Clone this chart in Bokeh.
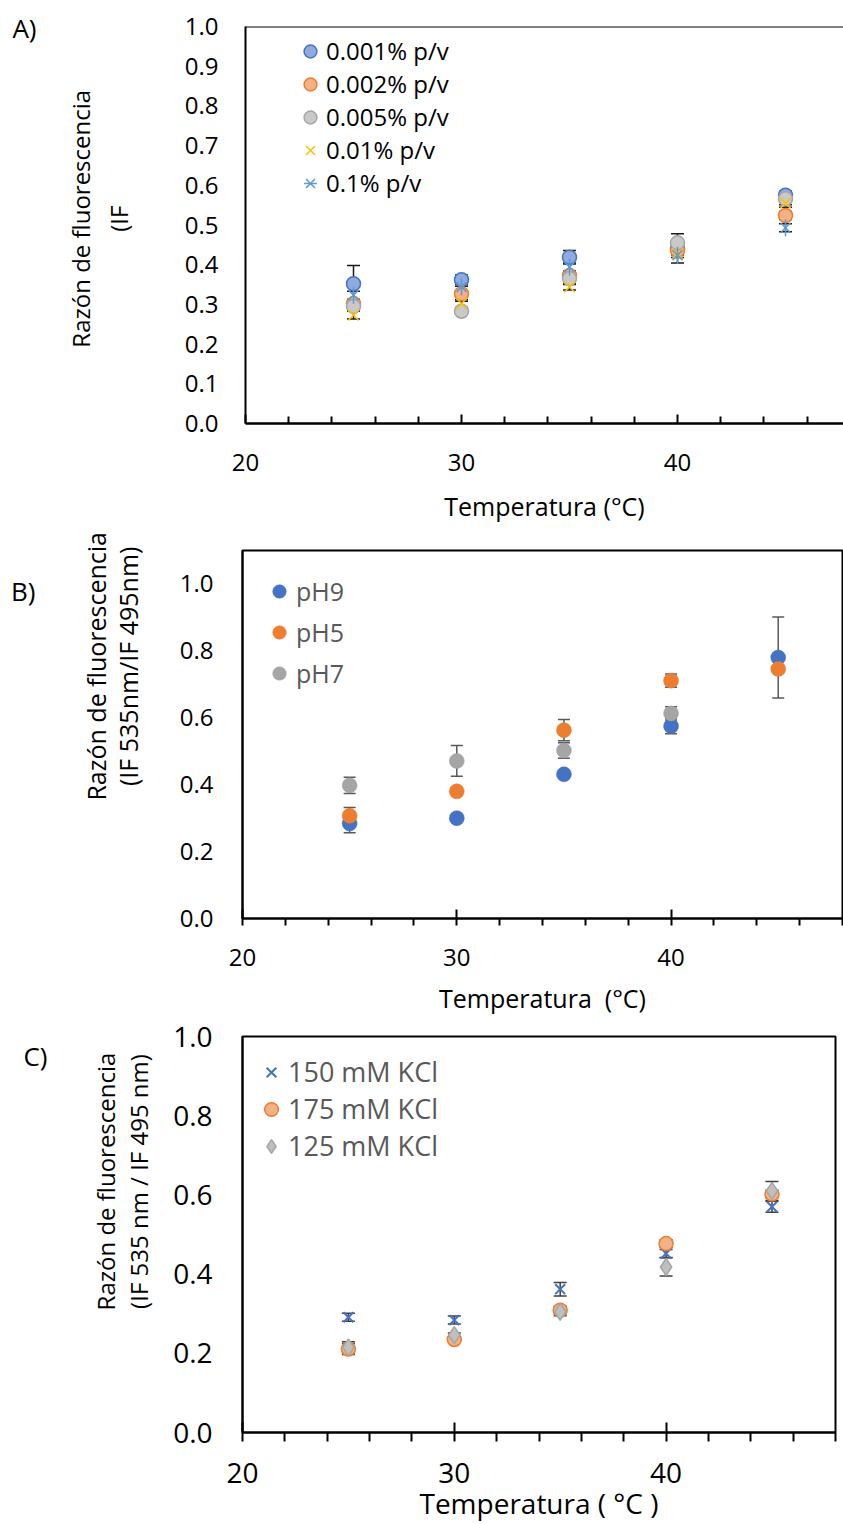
import numpy as np
from bokeh.plotting import figure
from bokeh.models import (ColumnDataSource, Range1d, FixedTicker, PrintfTickFormatter, LinearAxis,
                          Whisker, TeeHead, Legend, LegendItem, Span)
from bokeh.embed import file_html
from bokeh.resources import INLINE

FONT = "Open Sans"
NB = "\u00a0"

# ---------------- data ----------------
temps = [25, 30, 35, 40, 45]
x_major_ticks = [20, 30, 40]
x_minor_ticks = [22, 24, 26, 28, 32, 34, 36, 38, 42, 44, 46, 48]

# Panel A
a_labels = ["0.001% p/v", "0.002% p/v", "0.005% p/v", "0.01% p/v", "0.1% p/v"]
a_0001 = [0.352, 0.362, 0.419, 0.440, 0.575]
a_0002 = [0.302, 0.327, 0.373, 0.436, 0.524]
a_0005 = [0.295, 0.283, 0.365, 0.455, 0.566]
a_001 = [0.273, 0.302, 0.344, 0.428, 0.555]
a_01 = [0.323, 0.344, 0.394, 0.424, 0.493]
a_err_0001 = [0.046, 0.012, 0.017, 0.015, 0.010]
a_err_0002 = [0.010, 0.019, 0.010, 0.010, 0.010]
a_err_0005 = [0.010, 0.008, 0.015, 0.023, 0.015]
a_err_001 = [0.010, 0.010, 0.008, 0.010, 0.010]
a_err_01 = [0.010, 0.010, 0.010, 0.020, 0.010]
a_yticks = [0.0, 0.1, 0.2, 0.3, 0.4, 0.5, 0.6, 0.7, 0.8, 0.9, 1.0]

# Panel B
b_labels = ["pH9", "pH5", "pH7"]
b_ph9 = [0.284, 0.300, 0.431, 0.575, 0.780]
b_ph5 = [0.307, 0.380, 0.563, 0.711, 0.746]
b_ph7 = [0.398, 0.471, 0.502, 0.613, np.nan]
b_err_ph9 = [0.028, 0.010, 0.010, 0.023, 0.121]
b_err_ph5 = [0.025, 0.010, 0.032, 0.020, 0.010]
b_err_ph7 = [0.024, 0.046, 0.023, 0.020, np.nan]
b_yticks = [0.0, 0.2, 0.4, 0.6, 0.8, 1.0]

# Panel C
c_labels = ["150 mM KCl", "175 mM KCl", "125 mM KCl"]
c_150 = [0.291, 0.284, 0.362, 0.452, 0.570]
c_175 = [0.211, 0.235, 0.309, 0.477, 0.602]
c_125 = [0.215, 0.246, 0.305, 0.418, 0.610]
c_err_150 = [0.010, 0.010, 0.017, 0.010, 0.014]
c_err_175 = [0.014, 0.005, 0.010, 0.010, 0.010]
c_err_125 = [0.014, 0.005, 0.010, 0.023, 0.024]
c_yticks = [0.0, 0.2, 0.4, 0.6, 0.8, 1.0]

# ---------------- layout geometry (page pixels) ----------------
GA = dict(top=0, h=526, left=245, right=843, ftop=26, fbot=423, xr=(20, 20 + 598 / 21.6), yr=(0, 1.0))
GB = dict(top=526, h=491, left=242, right=842, ftop=550, fbot=918, xr=(20, 48), yr=(0, 1.1))
GC = dict(top=1017, h=507, left=242, right=835, ftop=1036, fbot=1433, xr=(20, 48), yr=(0, 1.0))


def make_fig(g, yticks, fs, x_std, y_std, tin, tout, mtin, mtout, axis_w):
    p = figure(width=843, height=g["h"], x_range=Range1d(*g["xr"]), y_range=Range1d(*g["yr"]),
               output_backend="svg", toolbar_location=None, min_border=0,
               min_border_left=g["left"], min_border_right=843 - g["right"],
               min_border_top=g["ftop"] - g["top"], min_border_bottom=g["top"] + g["h"] - g["fbot"])
    p.xgrid.visible = False
    p.ygrid.visible = False
    p.background_fill_color = "white"
    p.border_fill_color = "white"
    p.outline_line_color = "black"
    p.outline_line_width = 2
    xa = p.xaxis[0]
    xa.ticker = FixedTicker(ticks=x_major_ticks, minor_ticks=x_minor_ticks)
    xa.axis_line_color = "black"
    xa.axis_line_width = axis_w
    xa.major_tick_line_color = "black"
    xa.major_tick_line_width = 2
    xa.minor_tick_line_color = "black"
    xa.minor_tick_line_width = 2
    xa.major_tick_in = tin
    xa.major_tick_out = tout
    xa.minor_tick_in = mtin
    xa.minor_tick_out = mtout
    xa.major_label_standoff = x_std
    xa.major_label_text_font = FONT
    xa.major_label_text_font_size = f"{fs}px"
    xa.major_label_text_color = "black"
    ya = p.yaxis[0]
    ya.ticker = FixedTicker(ticks=yticks, minor_ticks=[])
    ya.formatter = PrintfTickFormatter(format="%.1f")
    ya.axis_line_color = "black"
    ya.axis_line_width = 2
    ya.major_tick_in = 0
    ya.major_tick_out = 0
    ya.minor_tick_in = 0
    ya.minor_tick_out = 0
    ya.major_label_standoff = y_std
    ya.major_label_text_font = FONT
    ya.major_label_text_font_size = f"{fs}px"
    ya.major_label_text_color = "black"
    return p


def set_labels(p, ytext, yfs, ylh, ystd, xtext, xfs, xstd):
    ya = p.yaxis[0]
    ya.axis_label = ytext
    ya.axis_label_text_font = FONT
    ya.axis_label_text_font_size = f"{yfs}px"
    ya.axis_label_text_font_style = "normal"
    ya.axis_label_text_color = "black"
    ya.axis_label_text_line_height = ylh
    ya.axis_label_standoff = ystd
    xa = p.xaxis[0]
    xa.axis_label = xtext
    xa.axis_label_text_font = FONT
    xa.axis_label_text_font_size = f"{xfs}px"
    xa.axis_label_text_font_style = "normal"
    xa.axis_label_text_color = "black"
    xa.axis_label_standoff = xstd


def add_letter(p, ypos, text, standoff, fs=26):
    ax = LinearAxis(ticker=FixedTicker(ticks=[ypos], minor_ticks=[]),
                    major_label_overrides={ypos: text},
                    axis_line_color=None, major_tick_line_color=None, minor_tick_line_color=None,
                    major_tick_in=0, major_tick_out=0, minor_tick_in=0, minor_tick_out=0,
                    major_label_standoff=standoff, major_label_text_font=FONT,
                    major_label_text_font_size=f"{fs}px", major_label_text_color="black")
    p.add_layout(ax, "left")


def add_err(p, x, y, e, color, head):
    y = np.array(y, dtype=float)
    e = np.array(e, dtype=float)
    src = ColumnDataSource(dict(x=x, lo=y - e, hi=y + e))
    w = Whisker(base="x", lower="lo", upper="hi", source=src, line_color=color, line_width=1.5,
                upper_head=TeeHead(size=head, line_color=color, line_width=1.5),
                lower_head=TeeHead(size=head, line_color=color, line_width=1.5))
    p.add_layout(w)


def legend(items, loc, glyph, spacing, fs, color, standoff=0):
    return Legend(items=items, location=loc, glyph_width=glyph, glyph_height=glyph,
                  label_standoff=standoff, spacing=spacing, padding=0, margin=0,
                  border_line_alpha=0, background_fill_alpha=0,
                  label_text_font=FONT, label_text_font_size=f"{fs}px", label_text_color=color)


# ---------------- Panel A ----------------
pA = make_fig(GA, a_yticks, 24, 30, 27, 9, 0, 7, 0, 2.5)
pA.outline_line_color = None
pA.add_layout(Span(location=GA["yr"][1], dimension="width", line_color="black", line_width=2))
set_labels(pA, NB * 2 + "Razón de fluorescencia\n" + NB * 2 + "(IF", 24, 1.15, 47,
           "Temperatura (°C)", 25, 15)
add_letter(pA, 0.995, "A)", 24)

a_series = [a_0001, a_0002, a_0005, a_001, a_01]
a_errs = [a_err_0001, a_err_0002, a_err_0005, a_err_001, a_err_01]
for ys, es in zip(a_series, a_errs):
    add_err(pA, temps, ys, es, "#1a1a1a", 13)

a_items = []
r = pA.scatter(temps, a_0001, marker="circle", size=14, fill_color="#8FAADC", line_color="#4472C4", line_width=1.5)
a_items.append(LegendItem(label=a_labels[0], renderers=[r]))
r = pA.scatter(temps, a_0002, marker="circle", size=14, fill_color="#F4B183", line_color="#ED7D31", line_width=1.5)
a_items.append(LegendItem(label=a_labels[1], renderers=[r]))
r = pA.scatter(temps, a_0005, marker="circle", size=14, fill_color="#C9C9C9", line_color="#A5A5A5", line_width=1.5)
a_items.append(LegendItem(label=a_labels[2], renderers=[r]))
r = pA.scatter(temps, a_001, marker="x", size=15, line_color="#FFC000", line_width=1.5)
a_items.append(LegendItem(label=a_labels[3], renderers=[r]))
r1 = pA.scatter(temps, a_01, marker="x", size=14, line_color="#5B9BD5", line_width=1.5)
r2 = pA.scatter(temps, a_01, marker="dash", angle=np.pi / 2, size=17, line_color="#5B9BD5", line_width=1.5)
a_items.append(LegendItem(label=a_labels[4], renderers=[r1, r2]))
pA.add_layout(legend(a_items, (49, 224), 32, 0, 24, "black"))

# ---------------- Panel B ----------------
pB = make_fig(GB, b_yticks, 24, 23, 29, 9, 7, 0, 7, 2)
set_labels(pB, NB * 21 + "Razón de fluorescencia\n" + NB * 21 + "(IF 535nm/IF 495nm)", 25, 0.92, 32,
           "Temperatura" + NB + " (°C)", 25, 12)
add_letter(pB, 0.98, "B)", 41)
b_series = [b_ph9, b_ph5, b_ph7]
b_errs = [b_err_ph9, b_err_ph5, b_err_ph7]
b_colors = ["#4472C4", "#ED7D31", "#A5A5A5"]
for ys, es in zip(b_series, b_errs):
    add_err(pB, temps, ys, es, "#595959", 12)
b_items = []
for lab, ys, col in zip(b_labels, b_series, b_colors):
    r = pB.scatter(temps, ys, marker="circle", size=15, fill_color=col, line_color=col, line_width=0.5)
    b_items.append(LegendItem(label=lab, renderers=[r]))
pB.add_layout(legend(b_items, (20, 228), 34, 7, 25, "#595959"))

# ---------------- Panel C ----------------
pC = make_fig(GC, c_yticks, 28, 21, 30, 10, 9, 0, 9, 2)
set_labels(pC, NB * 17 + "Razón de fluorescencia\n" + NB * 17 + "(IF 535 nm / IF 495 nm)", 24, 1.0, 15,
           "Temperatura ( °C )", 28, -2)
add_letter(pC, 0.952, "C)", 39)
c_series = [c_150, c_175, c_125]
c_errs = [c_err_150, c_err_175, c_err_125]
for ys, es in zip(c_series, c_errs):
    add_err(pC, temps, ys, es, "#404040", 13)
c_items = []
r = pC.scatter(temps, c_150, marker="x", size=14, line_color="#4472C4", line_width=2)
c_items.append(LegendItem(label=c_labels[0], renderers=[r]))
r = pC.scatter(temps, c_175, marker="circle", size=14, fill_color="#F4B183", line_color="#ED7D31", line_width=1.5)
c_items.append(LegendItem(label=c_labels[1], renderers=[r]))
r = pC.scatter(temps, c_125, marker="diamond", size=17, fill_color="#BFBFBF", line_color="#A5A5A5", line_width=1.5)
c_items.append(LegendItem(label=c_labels[2], renderers=[r]))
pC.add_layout(legend(c_items, (12, 268), 34, 0, 27, "#595959"))

open("out.html", "w").write(file_html([pA, pB, pC], INLINE))
